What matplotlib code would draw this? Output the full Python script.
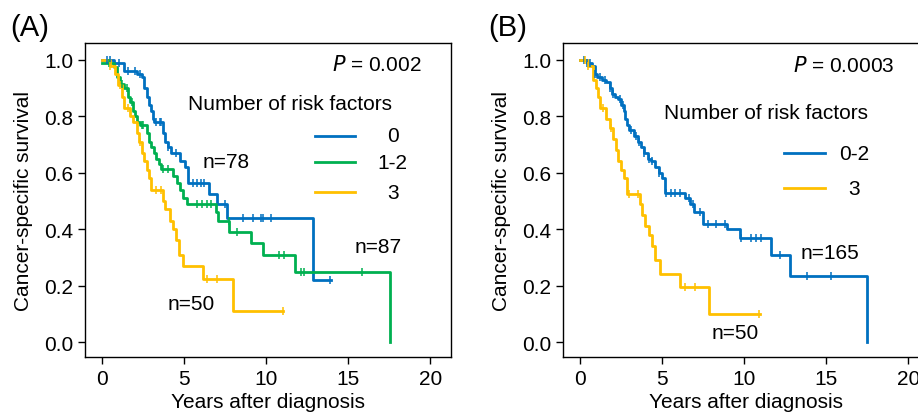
import numpy as np
import matplotlib.pyplot as plt

plt.rcParams['font.family'] = ['Liberation Sans', 'DejaVu Sans']

BLUE = "#0070C0"
GREEN = "#00B050"
YELLOW = "#FFC000"

# Panel A: number of risk factors 0 / 1-2 / 3  (step times, survival after step)
a0_t = [0.0, 0.7, 1.3, 2.1, 2.4, 2.55, 2.7, 2.85, 3.0, 3.1, 3.15, 3.73, 3.85, 4.0, 4.2, 4.75, 5.05, 5.25, 6.5, 7.0, 7.6, 12.85, 13.95]
a0_s = [1.0, 0.99, 0.96, 0.95, 0.94, 0.90, 0.87, 0.84, 0.82, 0.79, 0.78, 0.74, 0.71, 0.69, 0.67, 0.64, 0.62, 0.565, 0.525, 0.49, 0.44, 0.22, 0.22]
a0_c = [0.3, 0.5, 1.0, 1.6, 2.0, 2.3, 3.3, 3.5, 3.6, 4.0, 4.5, 5.5, 5.8, 6.0, 6.2, 7.5, 8.6, 9.2, 9.7, 9.8, 10.3, 13.9]

a1_t = [0.0, 0.7, 0.9, 1.1, 1.35, 1.56, 1.7, 1.85, 2.0, 2.1, 2.3, 2.7, 2.85, 3.0, 3.15, 3.3, 3.45, 3.6, 4.3, 4.55, 4.75, 4.9, 5.15, 6.95, 7.05, 7.75, 9.05, 9.8, 11.75, 17.55]
a1_s = [0.99, 0.975, 0.94, 0.913, 0.90, 0.87, 0.85, 0.82, 0.80, 0.78, 0.77, 0.74, 0.71, 0.69, 0.67, 0.65, 0.63, 0.615, 0.59, 0.565, 0.54, 0.51, 0.49, 0.46, 0.43, 0.39, 0.35, 0.31, 0.25, 0.0]
a1_c = [0.4, 1.2, 1.5, 1.8, 2.4, 2.5, 3.7, 4.0, 5.8, 6.1, 6.4, 6.6, 7.7, 8.2, 10.8, 11.1, 12.1, 12.3, 15.8]

a3_t = [0.0, 0.5, 0.8, 0.95, 1.2, 1.35, 1.7, 1.85, 2.1, 2.25, 2.4, 2.55, 2.7, 2.85, 3.0, 3.73, 3.85, 4.1, 4.3, 4.5, 4.7, 4.9, 6.16, 7.94, 11.0]
a3_s = [1.0, 0.98, 0.95, 0.91, 0.87, 0.83, 0.80, 0.78, 0.74, 0.71, 0.67, 0.64, 0.61, 0.58, 0.54, 0.50, 0.47, 0.43, 0.40, 0.36, 0.31, 0.27, 0.225, 0.11, 0.11]
a3_c = [0.5, 1.1, 1.6, 2.3, 3.3, 3.6, 6.4, 7.0, 11.0]

# Panel B: 0-2 / 3
b0_t = [0.0, 0.4, 0.7, 0.9, 1.05, 1.3, 1.6, 1.8, 1.95, 2.1, 2.3, 2.5, 2.65, 2.75, 2.85, 3.0, 3.3, 3.5, 3.7, 3.9, 4.1, 4.3, 4.55, 4.8, 5.0, 5.15, 6.4, 6.7, 6.95, 7.5, 8.95, 9.75, 11.65, 12.8, 17.45]
b0_s = [1.0, 0.99, 0.98, 0.95, 0.94, 0.93, 0.92, 0.90, 0.88, 0.87, 0.86, 0.84, 0.82, 0.79, 0.77, 0.75, 0.73, 0.71, 0.69, 0.67, 0.65, 0.64, 0.62, 0.60, 0.58, 0.53, 0.51, 0.49, 0.46, 0.42, 0.40, 0.37, 0.31, 0.235, 0.0]
b0_c = [0.2, 0.4, 0.6, 0.9, 1.2, 1.5, 1.8, 2.0, 2.4, 2.6, 3.1, 3.4, 3.6, 3.9, 4.2, 4.4, 4.8, 5.2, 5.5, 5.8, 6.1, 6.6, 6.9, 7.3, 7.8, 8.3, 8.8, 9.8, 10.4, 10.7, 11.0, 12.2, 13.8, 15.3]

b3_t = [0.0, 0.45, 0.8, 0.95, 1.1, 1.2, 1.6, 1.8, 2.0, 2.15, 2.3, 2.5, 2.65, 2.83, 3.65, 3.75, 3.95, 4.2, 4.35, 4.55, 4.83, 6.1, 7.83, 10.95]
b3_s = [1.0, 0.98, 0.93, 0.90, 0.87, 0.83, 0.79, 0.76, 0.72, 0.68, 0.64, 0.61, 0.58, 0.525, 0.49, 0.45, 0.41, 0.38, 0.34, 0.29, 0.24, 0.195, 0.10, 0.10]
b3_c = [0.3, 0.5, 1.4, 1.9, 3.0, 3.5, 6.4, 7.0, 10.9]

FS = 15


def km(ax, t, s, c, color):
    t = np.array(t)
    s = np.array(s)
    ax.plot(t, s, drawstyle="steps-post", color=color, lw=2, zorder=3)
    c = np.array(c)
    idx = np.searchsorted(t, c, side="right") - 1
    ax.plot(c, s[idx], ls="none", marker="|", ms=6, mew=1.1, color=color, zorder=4)


def style(ax):
    ax.set_xlim(-1.05, 21.25)
    ax.set_ylim(-0.053, 1.06)
    ax.set_xticks([0, 5, 10, 15, 20])
    ax.set_yticks([0.0, 0.2, 0.4, 0.6, 0.8, 1.0])
    ax.set_yticklabels(["0.0", "0.2", "0.4", "0.6", "0.8", "1.0"])
    ax.tick_params(labelsize=FS, length=5, width=1)
    ax.set_xlabel("Years after diagnosis", fontsize=FS, labelpad=3)
    ax.set_ylabel("Cancer-specific survival", fontsize=FS, labelpad=8)
    for sp in ax.spines.values():
        sp.set_linewidth(1)


fig = plt.figure(figsize=(9.18, 4.14), dpi=100)
axA = fig.add_axes([85 / 918, 56 / 414, 366 / 918, 314 / 414])
axB = fig.add_axes([563 / 918, 56 / 414, 366 / 918, 314 / 414])

km(axA, a0_t, a0_s, a0_c, BLUE)
km(axA, a1_t, a1_s, a1_c, GREEN)
km(axA, a3_t, a3_s, a3_c, YELLOW)
style(axA)
axA.text(19.45, 0.985, r"$\it{P}$ = 0.002", ha="right", va="center", fontsize=FS)
axA.text(5.2, 0.845, "Number of risk factors", ha="left", va="center", fontsize=FS)
for y, lab, col in zip([0.732, 0.637, 0.531], ["0", "1-2", "3"], [BLUE, GREEN, YELLOW]):
    axA.plot([12.95, 15.4], [y, y], color=col, lw=2)
    axA.text(17.7, y, lab, ha="center", va="center", fontsize=FS)
axA.text(6.1, 0.64, "n=78", ha="left", va="center", fontsize=FS)
axA.text(15.4, 0.34, "n=87", ha="left", va="center", fontsize=FS)
axA.text(3.95, 0.135, "n=50", ha="left", va="center", fontsize=FS)

km(axB, b0_t, b0_s, b0_c, BLUE)
km(axB, b3_t, b3_s, b3_c, YELLOW)
style(axB)
axB.text(19.15, 0.982, r"$\it{P}$ = 0.0003", ha="right", va="center", fontsize=FS)
axB.text(5.08, 0.815, "Number of risk factors", ha="left", va="center", fontsize=FS)
for y, lab, col in zip([0.67, 0.546], ["0-2", "3"], [BLUE, YELLOW]):
    axB.plot([12.4, 14.9], [y, y], color=col, lw=2)
    axB.text(16.7, y, lab, ha="center", va="center", fontsize=FS)
axB.text(13.45, 0.317, "n=165", ha="left", va="center", fontsize=FS)
axB.text(8.0, 0.035, "n=50", ha="left", va="center", fontsize=FS)

fig.text(10 / 918, 1 - 28 / 414, "(A)", ha="left", va="center", fontsize=21)
fig.text(488 / 918, 1 - 28 / 414, "(B)", ha="left", va="center", fontsize=21)

fig.savefig("out.png", dpi=100)
